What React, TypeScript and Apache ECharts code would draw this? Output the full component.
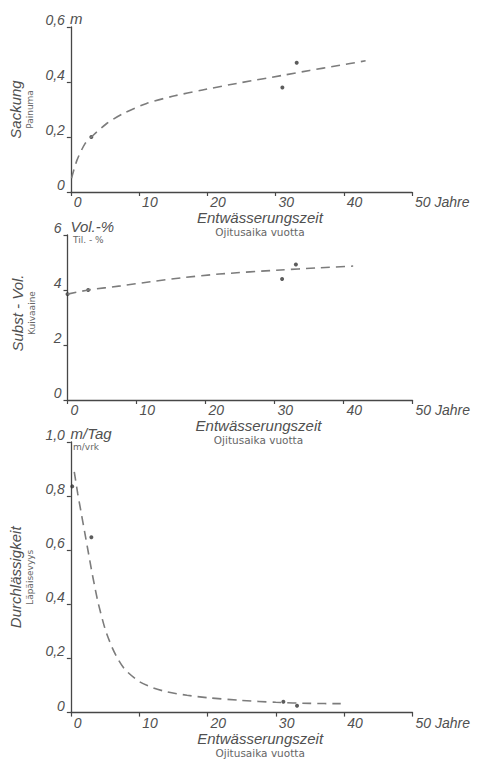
import React, { useEffect, useRef } from 'react';
import * as echarts from 'echarts';

// ---- data (years of drainage on x) ----
const xMin = 0;
const xMax = 50;
const xInterval = 10;

// Sackung / Painuma (m)
const sackungCurve: [number, number][] = [
  [0.1, 0.05], [0.9, 0.116], [2.1, 0.177], [3, 0.2], [5.3, 0.25], [7.7, 0.286],
  [11.1, 0.322], [14.9, 0.348], [19.3, 0.371], [25, 0.398], [31, 0.424],
  [35, 0.442], [39, 0.459], [43.2, 0.477],
];
const sackungPoints: [number, number][] = [[3, 0.2], [31, 0.38], [33.1, 0.47]];

// Subst.-Vol. / Kuivaaine (Vol.-%)
const substCurve: [number, number][] = [
  [0, 3.85], [3, 4.0], [7.7, 4.15], [12, 4.3], [16.4, 4.44], [22, 4.58],
  [30.9, 4.73], [36, 4.8], [41.4, 4.87],
];
const substPoints: [number, number][] = [[0, 3.85], [3, 4.0], [31.1, 4.4], [33.1, 4.93]];

// Durchlässigkeit / Läpäisevyys (m/Tag)
const durchCurve: [number, number][] = [
  [0.5, 0.89], [1, 0.81], [1.5, 0.74], [2, 0.67], [2.5, 0.6], [3, 0.53],
  [3.5, 0.465], [4, 0.405], [5, 0.31], [6, 0.243], [7, 0.193], [8, 0.157],
  [10, 0.115], [12, 0.092], [14, 0.077], [17, 0.064], [20, 0.055], [25, 0.045],
  [30, 0.038], [35, 0.034], [39.5, 0.033],
];
const durchPoints: [number, number][] = [[0.2, 0.836], [3, 0.648], [31.1, 0.04], [33.1, 0.025]];

const xTitle = 'Entwässerungszeit';
const xSubtitle = 'Ojitusaika vuotta';
const xUnit = 'Jahre';

const panels = [
  { title: 'Sackung', subtitle: 'Painuma', unit: 'm', unitSub: '', max: 0.6, interval: 0.2, decimals: 1, curve: sackungCurve, points: sackungPoints },
  { title: 'Subst - Vol.', subtitle: 'Kuivaaine', unit: 'Vol.-%', unitSub: 'Til. - %', max: 6, interval: 2, decimals: 0, curve: substCurve, points: substPoints },
  { title: 'Durchlässigkeit', subtitle: 'Läpäisevyys', unit: 'm/Tag', unitSub: 'm/vrk', max: 1.0, interval: 0.2, decimals: 1, curve: durchCurve, points: durchPoints },
];

// ---- layout / style ----
const grids = [
  { left: 67, top: 27, width: 345, height: 165 },
  { left: 67.5, top: 235, width: 345, height: 165 },
  { left: 67.5, top: 442, width: 345, height: 275 },
];
const titlePad = [0, 9, 0];
const AX = '#474747';
const TXT = '#505050';
const LINE = '#7c7c7c';
const MAIN_FONT = '"Liberation Sans", Arial, sans-serif';
const SMALL_FONT = '"DejaVu Sans", sans-serif';

function fmtY(v: number, decimals: number) {
  if (v === 0) return '0';
  return v.toFixed(decimals).replace('.', ',');
}

function buildOption() {
  const grid = grids.map((g) => ({ ...g, containLabel: false }));
  const xAxis = panels.map((_, i) => ({
    gridIndex: i,
    type: 'value',
    min: xMin,
    max: xMax,
    interval: xInterval,
    axisLine: { show: true, onZero: false, lineStyle: { color: AX, width: 1.3 } },
    axisTick: { show: true, length: 4, lineStyle: { color: AX, width: 1.2 } },
    axisLabel: {
      align: 'left',
      margin: 3,
      padding: [0, 0, 0, 3],
      fontFamily: MAIN_FONT,
      fontStyle: 'italic',
      fontSize: 14,
      color: TXT,
      formatter: (v: number) => (v === xMax ? `${v} ${xUnit}` : String(v)),
    },
    splitLine: { show: false },
    name: `{a|${xTitle}}\n{b|${xSubtitle}}`,
    nameLocation: 'middle',
    nameGap: 15,
    nameTextStyle: {
      verticalAlign: 'top',
      padding: [0, 0, 0, 37],
      rich: {
        a: { fontFamily: MAIN_FONT, fontStyle: 'italic', fontSize: 15, lineHeight: 17, color: TXT },
        b: { fontFamily: SMALL_FONT, fontSize: 10.5, lineHeight: 12, color: '#666666' },
      },
    },
  }));
  const yAxis = panels.map((p, i) => ({
    gridIndex: i,
    type: 'value',
    min: 0,
    max: p.max,
    interval: p.interval,
    axisLine: { show: true, onZero: false, lineStyle: { color: AX, width: 1.3 } },
    axisTick: { show: true, length: 4, lineStyle: { color: AX, width: 1.2 } },
    axisLabel: {
      margin: 6,
      verticalAlign: 'bottom',
      fontFamily: MAIN_FONT,
      fontStyle: 'italic',
      fontSize: 14,
      color: TXT,
      formatter: (v: number) => fmtY(v, p.decimals),
    },
    splitLine: { show: false },
    name: `{a|${p.title}}\n{b|${p.subtitle}}`,
    nameLocation: 'middle',
    nameRotate: 90,
    nameGap: 30,
    nameTextStyle: {
      padding: [0, 0, 0, titlePad[i]],
      rich: {
        a: { fontFamily: MAIN_FONT, fontStyle: 'italic', fontSize: 15, lineHeight: 17, color: TXT },
        b: { fontFamily: SMALL_FONT, fontSize: 9, lineHeight: 12, color: '#666666' },
      },
    },
  }));
  const series: any[] = [];
  panels.forEach((p, i) => {
    series.push({
      type: 'line',
      xAxisIndex: i,
      yAxisIndex: i,
      data: p.curve,
      smooth: 0.25,
      showSymbol: false,
      lineStyle: { color: LINE, width: 1.6, type: [9, 6] },
      silent: true,
    });
    series.push({
      type: 'scatter',
      xAxisIndex: i,
      yAxisIndex: i,
      data: p.points,
      symbolSize: 4,
      itemStyle: { color: '#333333' },
      silent: true,
    });
  });
  const graphic: any[] = [];
  panels.forEach((p, i) => {
    const g = grids[i];
    graphic.push({
      type: 'text',
      x: g.left + 3,
      y: g.top - 9,
      style: {
        text: p.unit,
        fontFamily: MAIN_FONT,
        fontStyle: 'italic',
        fontSize: 15,
        fill: TXT,
        verticalAlign: 'middle',
        align: 'left',
      },
    });
    if (p.unitSub) {
      graphic.push({
        type: 'text',
        x: g.left + 5.5,
        y: g.top + 5,
        style: {
          text: p.unitSub,
          fontFamily: SMALL_FONT,
          fontSize: 9,
          fill: '#666666',
          verticalAlign: 'middle',
          align: 'left',
        },
      });
    }
  });
  return {
    animation: false,
    backgroundColor: '#ffffff',
    grid,
    xAxis,
    yAxis,
    series,
    graphic,
  };
}

export default function App() {
  const ref = useRef<HTMLDivElement>(null);
  useEffect(() => {
    document.body.style.margin = '0';
    const chart = echarts.init(ref.current as HTMLDivElement, null, { renderer: 'svg' });
    chart.setOption(buildOption() as any);
    return () => chart.dispose();
  }, []);
  return <div ref={ref} style={{ width: 494, height: 759 }} />;
}
